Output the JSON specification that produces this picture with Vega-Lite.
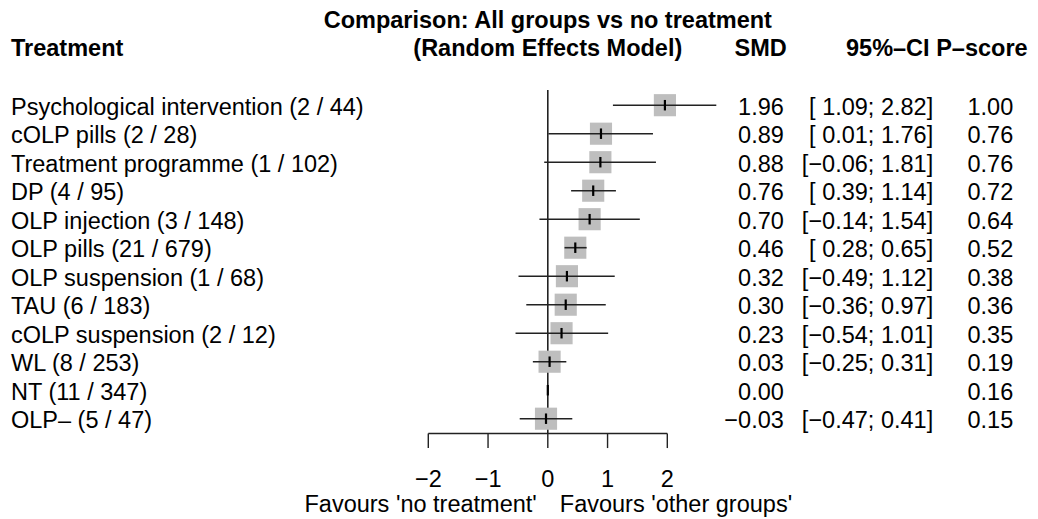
{
  "$schema": "https://vega.github.io/schema/vega-lite/v6.json",
  "width": 1038,
  "height": 519,
  "padding": 0,
  "autosize": {"type": "fit", "contains": "padding"},
  "background": "white",
  "config": {
    "view": {"stroke": null},
    "text": {"font": "Liberation Sans", "fontSize": 23.5, "baseline": "alphabetic", "dy": 9.5, "color": "black"}
  },
  "datasets": {
    "rows": [
      {"treatment": "Psychological intervention (2 / 44)", "rank": 1, "smd": 1.96, "lo": 1.09, "hi": 2.82, "ci": "[ 1.09; 2.82]", "pscore": "1.00"},
      {"treatment": "cOLP pills (2 / 28)", "rank": 2, "smd": 0.89, "lo": 0.01, "hi": 1.76, "ci": "[ 0.01; 1.76]", "pscore": "0.76"},
      {"treatment": "Treatment programme (1 / 102)", "rank": 3, "smd": 0.88, "lo": -0.06, "hi": 1.81, "ci": "[−0.06; 1.81]", "pscore": "0.76"},
      {"treatment": "DP (4 / 95)", "rank": 4, "smd": 0.76, "lo": 0.39, "hi": 1.14, "ci": "[ 0.39; 1.14]", "pscore": "0.72"},
      {"treatment": "OLP injection (3 / 148)", "rank": 5, "smd": 0.70, "lo": -0.14, "hi": 1.54, "ci": "[−0.14; 1.54]", "pscore": "0.64"},
      {"treatment": "OLP pills (21 / 679)", "rank": 6, "smd": 0.46, "lo": 0.28, "hi": 0.65, "ci": "[ 0.28; 0.65]", "pscore": "0.52"},
      {"treatment": "OLP suspension (1 / 68)", "rank": 7, "smd": 0.32, "lo": -0.49, "hi": 1.12, "ci": "[−0.49; 1.12]", "pscore": "0.38"},
      {"treatment": "TAU (6 / 183)", "rank": 8, "smd": 0.30, "lo": -0.36, "hi": 0.97, "ci": "[−0.36; 0.97]", "pscore": "0.36"},
      {"treatment": "cOLP suspension (2 / 12)", "rank": 9, "smd": 0.23, "lo": -0.54, "hi": 1.01, "ci": "[−0.54; 1.01]", "pscore": "0.35"},
      {"treatment": "WL (8 / 253)", "rank": 10, "smd": 0.03, "lo": -0.25, "hi": 0.31, "ci": "[−0.25; 0.31]", "pscore": "0.19"},
      {"treatment": "NT (11 / 347)", "rank": 11, "smd": 0.00, "lo": null, "hi": null, "ci": "", "pscore": "0.16"},
      {"treatment": "OLP– (5 / 47)", "rank": 12, "smd": -0.03, "lo": -0.47, "hi": 0.41, "ci": "[−0.47; 0.41]", "pscore": "0.15"}
    ],
    "ticks": [{"v": -2}, {"v": -1}, {"v": 0}, {"v": 1}, {"v": 2}],
    "one": [{}]
  },
  "data": {"name": "rows"},
  "layer": [
    {
      "data": {"name": "one"},
      "mark": {"type": "rule", "color": "#222", "strokeWidth": 1.6},
      "encoding": {
        "x": {"datum": 0, "type": "quantitative", "scale": {"domain": [-9.168, 8.204], "nice": false, "zero": false}, "axis": null},
        "y": {"datum": 0.47, "type": "quantitative", "scale": {"domain": [-2.691, 15.519], "reverse": true, "nice": false, "zero": false}, "axis": null},
        "y2": {"datum": 12.52}
      }
    },
    {
      "transform": [{"filter": "datum.lo != null"}],
      "mark": {"type": "point", "shape": "square", "filled": true, "color": "#bebebe", "opacity": 1, "size": 490, "strokeWidth": 0},
      "encoding": {
        "x": {"field": "smd", "type": "quantitative"},
        "y": {"field": "rank", "type": "quantitative"}
      }
    },
    {
      "transform": [{"filter": "datum.lo != null"}],
      "mark": {"type": "rule", "color": "#222", "strokeWidth": 1.6},
      "encoding": {
        "x": {"field": "lo", "type": "quantitative"},
        "x2": {"field": "hi"},
        "y": {"field": "rank", "type": "quantitative"}
      }
    },
    {
      "mark": {"type": "point", "shape": "M0,-1L0,1", "filled": false, "color": "black", "opacity": 1, "size": 110, "strokeWidth": 2.2},
      "encoding": {
        "x": {"field": "smd", "type": "quantitative"},
        "y": {"field": "rank", "type": "quantitative"}
      }
    },
    {
      "mark": {"type": "text", "align": "left"},
      "encoding": {
        "x": {"datum": -8.984, "type": "quantitative"},
        "y": {"field": "rank", "type": "quantitative"},
        "text": {"field": "treatment"}
      }
    },
    {
      "mark": {"type": "text", "align": "right"},
      "encoding": {
        "x": {"datum": 3.95, "type": "quantitative"},
        "y": {"field": "rank", "type": "quantitative"},
        "text": {"field": "smd", "format": ".2f"}
      }
    },
    {
      "mark": {"type": "text", "align": "right"},
      "encoding": {
        "x": {"datum": 6.45, "type": "quantitative"},
        "y": {"field": "rank", "type": "quantitative"},
        "text": {"field": "ci"}
      }
    },
    {
      "mark": {"type": "text", "align": "right"},
      "encoding": {
        "x": {"datum": 7.79, "type": "quantitative"},
        "y": {"field": "rank", "type": "quantitative"},
        "text": {"field": "pscore"}
      }
    },
    {
      "data": {"values": [{"label": "Comparison: All groups vs no treatment"}]},
      "mark": {"type": "text", "align": "center", "fontWeight": "bold"},
      "encoding": {
        "x": {"datum": 0, "type": "quantitative"},
        "y": {"datum": -2.03, "type": "quantitative"},
        "text": {"field": "label"}
      }
    },
    {
      "data": {"values": [{"label": "(Random Effects Model)"}]},
      "mark": {"type": "text", "align": "center", "fontWeight": "bold"},
      "encoding": {
        "x": {"datum": 0, "type": "quantitative"},
        "y": {"datum": -1.06, "type": "quantitative"},
        "text": {"field": "label"}
      }
    },
    {
      "data": {"values": [{"label": "Treatment"}]},
      "mark": {"type": "text", "align": "left", "fontWeight": "bold"},
      "encoding": {
        "x": {"datum": -8.984, "type": "quantitative"},
        "y": {"datum": -1.06, "type": "quantitative"},
        "text": {"field": "label"}
      }
    },
    {
      "data": {"values": [{"label": "SMD"}]},
      "mark": {"type": "text", "align": "right", "fontWeight": "bold"},
      "encoding": {
        "x": {"datum": 4.0, "type": "quantitative"},
        "y": {"datum": -1.06, "type": "quantitative"},
        "text": {"field": "label"}
      }
    },
    {
      "data": {"values": [{"label": "95%–CI"}]},
      "mark": {"type": "text", "align": "right", "fontWeight": "bold"},
      "encoding": {
        "x": {"datum": 6.39, "type": "quantitative"},
        "y": {"datum": -1.06, "type": "quantitative"},
        "text": {"field": "label"}
      }
    },
    {
      "data": {"values": [{"label": "P–score"}]},
      "mark": {"type": "text", "align": "right", "fontWeight": "bold"},
      "encoding": {
        "x": {"datum": 8.03, "type": "quantitative"},
        "y": {"datum": -1.06, "type": "quantitative"},
        "text": {"field": "label"}
      }
    },
    {
      "data": {"name": "one"},
      "mark": {"type": "rule", "color": "#222", "strokeWidth": 1.4},
      "encoding": {
        "x": {"datum": -2, "type": "quantitative"},
        "x2": {"datum": 2},
        "y": {"datum": 12.52, "type": "quantitative"}
      }
    },
    {
      "data": {"name": "ticks"},
      "mark": {"type": "rule", "color": "#222", "strokeWidth": 1.4},
      "encoding": {
        "x": {"field": "v", "type": "quantitative"},
        "y": {"datum": 12.52, "type": "quantitative"},
        "y2": {"datum": 13.03}
      }
    },
    {
      "data": {"name": "ticks"},
      "mark": {"type": "text", "align": "center"},
      "encoding": {
        "x": {"field": "v", "type": "quantitative"},
        "y": {"datum": 14.05, "type": "quantitative"},
        "text": {"field": "v", "format": "d"}
      }
    },
    {
      "data": {"values": [{"label": "Favours 'no treatment'"}]},
      "mark": {"type": "text", "align": "right", "dx": -11},
      "encoding": {
        "x": {"datum": 0, "type": "quantitative"},
        "y": {"datum": 14.93, "type": "quantitative"},
        "text": {"field": "label"}
      }
    },
    {
      "data": {"values": [{"label": "Favours 'other groups'"}]},
      "mark": {"type": "text", "align": "left", "dx": 12},
      "encoding": {
        "x": {"datum": 0, "type": "quantitative"},
        "y": {"datum": 14.93, "type": "quantitative"},
        "text": {"field": "label"}
      }
    }
  ]
}
